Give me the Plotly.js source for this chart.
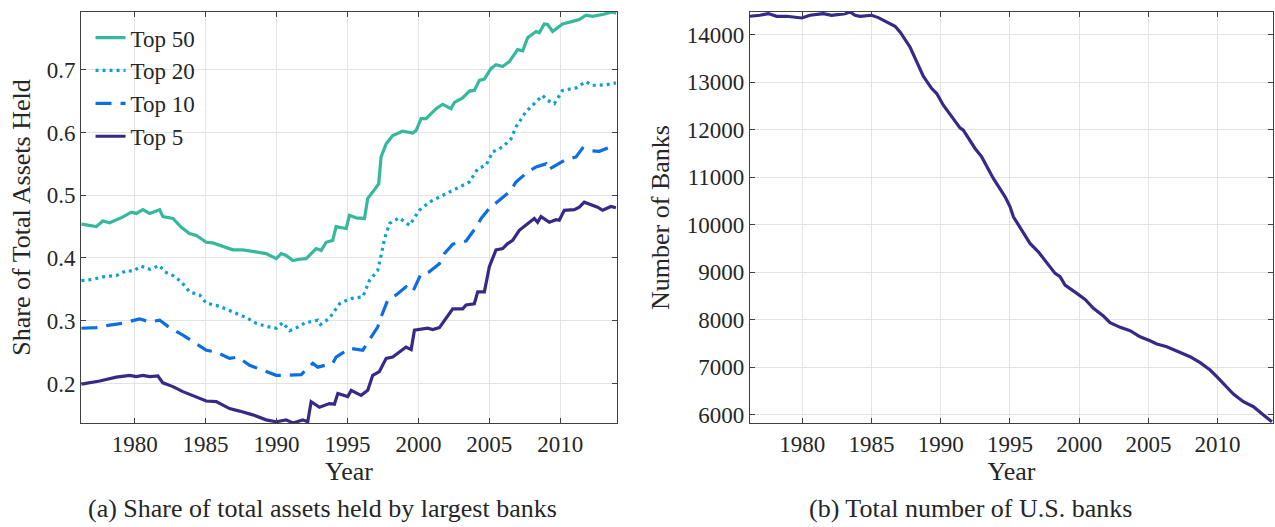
<!DOCTYPE html>
<html>
<head>
<meta charset="utf-8">
<script src="https://cdn.plot.ly/plotly-3.0.1.min.js"></script>
<style>html,body{margin:0;padding:0;background:#fff;}#chart{width:1275px;height:527px;}</style>
</head>
<body>
<div id="chart"></div>
<script>
// ---- Data ----
const top50Years = [1976.25,1977.30,1977.75,1978.24,1979.15,1979.77,1980.12,1980.58,1981.06,1981.76,1981.99,1982.70,1983.29,1983.87,1984.35,1985.05,1985.51,1986.22,1986.92,1987.60,1988.33,1989.27,1989.98,1990.33,1990.68,1991.15,1991.62,1992.09,1992.80,1993.15,1993.50,1993.96,1994.20,1994.91,1995.14,1995.61,1996.20,1996.43,1996.78,1997.20,1997.37,1997.73,1998.19,1998.89,1999.60,1999.84,2000.19,2000.54,2001.25,2001.71,2002.30,2002.54,2003.12,2003.59,2003.94,2004.30,2004.65,2005.12,2005.47,2005.94,2006.41,2006.99,2007.35,2007.70,2008.29,2008.52,2008.87,2009.11,2009.46,2010.16,2010.87,2011.34,2011.81,2012.27,2012.98,2013.68,2013.94];
const top50Share = [0.454,0.450,0.459,0.456,0.465,0.473,0.471,0.477,0.471,0.477,0.466,0.463,0.449,0.439,0.436,0.425,0.424,0.419,0.413,0.413,0.410,0.407,0.399,0.407,0.404,0.396,0.398,0.399,0.415,0.412,0.425,0.428,0.450,0.447,0.468,0.464,0.463,0.495,0.505,0.518,0.561,0.582,0.595,0.602,0.599,0.603,0.622,0.622,0.638,0.645,0.638,0.648,0.655,0.666,0.667,0.683,0.685,0.702,0.708,0.705,0.713,0.732,0.730,0.751,0.761,0.759,0.773,0.772,0.761,0.773,0.777,0.780,0.787,0.785,0.788,0.792,0.790];

const top20Years = [1976.25,1977.06,1977.77,1978.71,1979.42,1979.88,1980.47,1981.06,1981.76,1982.11,1982.70,1983.29,1983.87,1984.58,1985.05,1985.99,1986.92,1987.87,1988.57,1989.27,1989.98,1990.44,1990.92,1991.62,1992.09,1992.32,1992.91,1993.10,1993.73,1994.44,1995.14,1996.08,1996.55,1997.13,1997.37,1997.61,1997.96,1998.66,1999.37,2000.07,2000.77,2001.48,2002.18,2002.89,2003.59,2004.18,2004.77,2005.23,2005.94,2006.53,2006.88,2007.58,2008.29,2008.75,2009.11,2009.58,2010.16,2011.11,2011.81,2012.27,2013.22,2013.92];
const top20Share = [0.364,0.366,0.370,0.372,0.380,0.379,0.387,0.382,0.388,0.378,0.372,0.362,0.346,0.341,0.328,0.323,0.314,0.305,0.296,0.291,0.288,0.297,0.284,0.291,0.298,0.298,0.301,0.294,0.304,0.327,0.335,0.338,0.364,0.380,0.404,0.430,0.455,0.464,0.452,0.476,0.489,0.497,0.505,0.513,0.521,0.542,0.548,0.569,0.577,0.590,0.609,0.633,0.648,0.659,0.651,0.646,0.667,0.671,0.681,0.675,0.676,0.679];

const top10Years = [1976.25,1977.30,1978.24,1979.18,1980.35,1981.06,1981.76,1982.46,1983.40,1984.11,1985.05,1985.75,1986.69,1987.27,1988.10,1989.04,1989.98,1990.68,1991.74,1992.09,1992.56,1992.91,1993.96,1994.20,1995.14,1996.08,1996.55,1997.13,1997.37,1997.84,1998.43,1999.13,1999.60,2000.19,2000.77,2001.48,2001.83,2002.42,2003.36,2004.06,2004.42,2005.00,2005.70,2006.41,2006.88,2007.70,2008.29,2008.99,2009.11,2009.93,2010.40,2011.11,2011.57,2012.04,2012.75,2013.57,2013.92];
const top10Share = [0.288,0.289,0.293,0.296,0.303,0.298,0.301,0.289,0.277,0.266,0.253,0.250,0.240,0.242,0.229,0.221,0.213,0.213,0.214,0.222,0.232,0.226,0.232,0.242,0.256,0.253,0.269,0.290,0.306,0.333,0.341,0.354,0.346,0.375,0.378,0.391,0.407,0.422,0.427,0.449,0.463,0.479,0.492,0.505,0.521,0.537,0.545,0.550,0.540,0.550,0.557,0.561,0.575,0.571,0.570,0.577,0.574];

const top5Years = [1976.25,1977.54,1978.71,1979.65,1980.12,1980.58,1981.06,1981.64,1981.99,1982.70,1983.40,1984.11,1985.05,1985.75,1986.69,1987.39,1988.33,1989.27,1989.98,1990.68,1991.15,1991.85,1992.20,1992.44,1993.03,1993.73,1994.08,1994.32,1995.02,1995.26,1995.96,1996.43,1996.78,1997.25,1997.73,1998.19,1999.13,1999.49,1999.72,2000.65,2001.01,2001.48,2001.95,2002.42,2003.12,2003.36,2003.94,2004.18,2004.65,2005.00,2005.47,2005.94,2006.29,2006.64,2007.11,2007.58,2008.17,2008.40,2008.64,2009.23,2009.70,2009.93,2010.28,2010.99,2011.34,2011.69,2012.16,2012.63,2012.98,2013.57,2013.92];
const top5Share = [0.199,0.204,0.210,0.213,0.211,0.213,0.211,0.212,0.201,0.195,0.187,0.180,0.172,0.171,0.160,0.156,0.150,0.142,0.139,0.142,0.137,0.142,0.139,0.171,0.162,0.168,0.167,0.184,0.179,0.189,0.181,0.189,0.213,0.219,0.240,0.242,0.258,0.254,0.285,0.288,0.286,0.289,0.303,0.319,0.319,0.325,0.327,0.346,0.346,0.386,0.413,0.415,0.423,0.428,0.444,0.452,0.463,0.457,0.466,0.457,0.461,0.460,0.476,0.477,0.481,0.489,0.485,0.481,0.476,0.482,0.480];

const bankYears = [1976.22,1976.94,1977.54,1978.15,1978.87,1979.47,1979.96,1980.56,1981.52,1982.12,1982.72,1983.09,1983.45,1983.81,1984.17,1984.65,1985.01,1985.49,1986.10,1986.70,1987.06,1987.78,1988.27,1988.74,1989.35,1989.71,1990.19,1990.79,1991.39,1991.63,1992.48,1992.96,1993.80,1994.65,1995.01,1995.25,1995.85,1996.45,1997.05,1997.54,1997.90,1998.26,1998.62,1998.98,1999.83,2000.43,2001.03,2001.75,2002.23,2002.96,2003.68,2004.40,2005.12,2005.61,2006.33,2007.05,2008.01,2008.74,2009.46,2009.94,2010.54,2011.14,2011.86,2012.59,2013.31,2013.92];
const bankCount = [14385,14406,14442,14385,14385,14357,14349,14406,14442,14406,14427,14442,14475,14406,14385,14406,14406,14357,14265,14175,14055,13739,13424,13123,12864,12759,12513,12267,12036,11987,11603,11426,10972,10585,10374,10164,9884,9605,9428,9253,9113,8974,8903,8728,8553,8427,8238,8076,7935,7838,7767,7640,7556,7487,7430,7340,7220,7094,6940,6799,6610,6435,6273,6168,5994,5853];

const seriesNames = ['Top 50','Top 20','Top 10','Top 5'];
const yearTicks = [1980,1985,1990,1995,2000,2005,2010];
const shareTicks = [0.2,0.3,0.4,0.5,0.6,0.7];
const bankTicks = [6000,7000,8000,9000,10000,11000,12000,13000,14000];
const captionA = '(a) Share of total assets held by largest banks';
const captionB = '(b) Total number of U.S. banks';

// ---- Styling ----
const FONT = 'Liberation Serif, Times New Roman, serif';
const TXT = '#262626';
const LW = 3.2;

const traces = [
  {x: top50Years, y: top50Share, name: seriesNames[0], type: 'scatter', mode: 'lines', xaxis: 'x', yaxis: 'y',
   line: {color: '#36b89c', width: LW}},
  {x: top20Years, y: top20Share, name: seriesNames[1], type: 'scatter', mode: 'lines', xaxis: 'x', yaxis: 'y',
   line: {color: '#0e9fd6', width: LW, dash: '3px,4px'}},
  {x: top10Years, y: top10Share, name: seriesNames[2], type: 'scatter', mode: 'lines', xaxis: 'x', yaxis: 'y',
   line: {color: '#0b6fe3', width: LW, dash: '16px,9px'}},
  {x: top5Years, y: top5Share, name: seriesNames[3], type: 'scatter', mode: 'lines', xaxis: 'x', yaxis: 'y',
   line: {color: '#352a87', width: LW}},
  {x: bankYears, y: bankCount, name: 'Banks', type: 'scatter', mode: 'lines', xaxis: 'x2', yaxis: 'y2',
   line: {color: '#352a87', width: LW}, showlegend: false}
];

const axisCommon = {
  showline: true, linecolor: '#404040', linewidth: 1, mirror: 'ticks',
  ticks: 'inside', ticklen: 5, tickcolor: '#404040', tickwidth: 1,
  showgrid: true, gridcolor: '#e3e3e3', gridwidth: 1, zeroline: false,
  tickfont: {family: FONT, size: 23, color: TXT},
  automargin: false
};
const titleFont = {family: FONT, size: 26, color: TXT};

const layout = {
  width: 1275, height: 527,
  margin: {l: 81, r: 2, t: 12, b: 104},
  paper_bgcolor: '#ffffff', plot_bgcolor: '#ffffff',
  font: {family: FONT, color: TXT},
  showlegend: true,
  legend: {x: 0.008, y: 0.99, xanchor: 'left', yanchor: 'top', bgcolor: 'rgba(0,0,0,0)',
           font: {family: FONT, size: 23, color: TXT}, tracegroupgap: 0},
  xaxis: Object.assign({}, axisCommon, {domain: [0, 0.4497], range: [1976.22, 2014.0], tickvals: yearTicks,
    anchor: 'y', title: {text: 'Year', font: titleFont, standoff: 6}}),
  yaxis: Object.assign({}, axisCommon, {domain: [0, 1], range: [0.137, 0.792], tickvals: shareTicks, tickformat: '.1f',
    anchor: 'x', title: {text: 'Share of Total Assets Held', font: titleFont, standoff: 8}}),
  xaxis2: Object.assign({}, axisCommon, {domain: [0.5612, 1], range: [1976.22, 2014.0], tickvals: yearTicks,
    anchor: 'y2', title: {text: 'Year', font: titleFont, standoff: 6}}),
  yaxis2: Object.assign({}, axisCommon, {domain: [0, 1], range: [5825, 14475], tickvals: bankTicks, tickformat: 'd',
    anchor: 'x2', title: {text: 'Number of Banks', font: titleFont, standoff: 9}}),
  annotations: [
    {text: captionA, xref: 'paper', yref: 'paper', x: 0.203, y: -0.209, xanchor: 'center', yanchor: 'middle',
     showarrow: false, font: {family: FONT, size: 26, color: TXT}},
    {text: captionB, xref: 'paper', yref: 'paper', x: 0.746, y: -0.209, xanchor: 'center', yanchor: 'middle',
     showarrow: false, font: {family: FONT, size: 26, color: TXT}}
  ]
};

Plotly.newPlot('chart', traces, layout, {displayModeBar: false, staticPlot: true});
</script>
</body>
</html>
